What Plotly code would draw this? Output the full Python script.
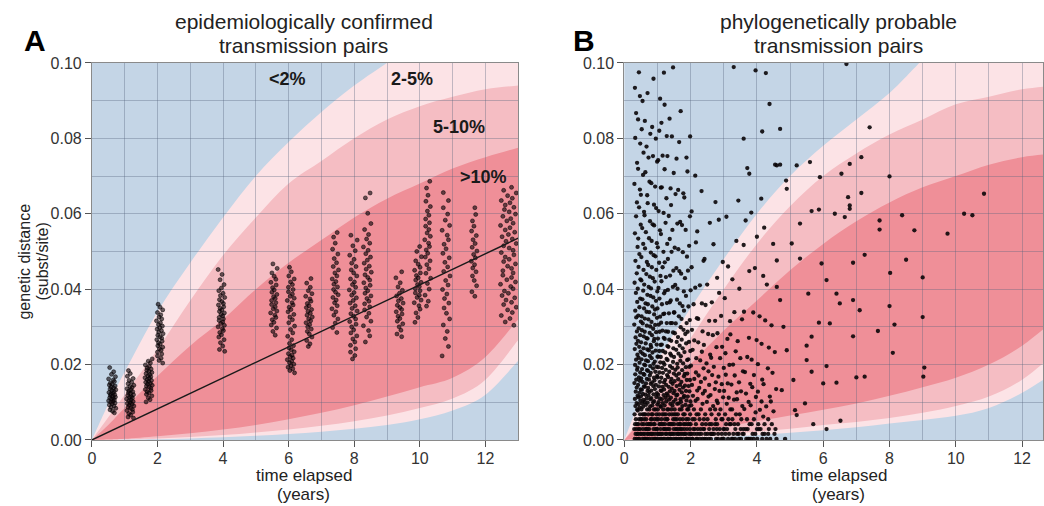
import plotly.graph_objects as go

FONT = "Liberation Sans, Arial, Helvetica, sans-serif"
W, H = 1044, 506

# ---------------------------------------------------------------------------
# Probability bands (genetic distance in subst/site versus years elapsed)
# U* = upper boundaries, L* = lower boundaries; 1 = 2 %, 2 = 5 %, 3 = 10 %
# ---------------------------------------------------------------------------
A_U1_T = [0, 0.5, 1, 2, 3, 4, 5, 6, 7, 8, 9]
A_U1 = [0, 0.0095, 0.018, 0.034, 0.047, 0.059, 0.070, 0.079, 0.087, 0.094, 0.100]
A_BAND_T = [0, 0.5, 1, 2, 3, 4, 5, 6, 7, 8, 9, 10, 11, 12, 13]
A_U2 = [0, 0.006, 0.012, 0.024, 0.037, 0.049, 0.059, 0.068, 0.074, 0.080, 0.085, 0.0885, 0.091, 0.093, 0.094]
A_U3 = [0, 0.004, 0.0085, 0.017, 0.025, 0.032, 0.040, 0.047, 0.053, 0.059, 0.064, 0.068, 0.072, 0.075, 0.0775]
A_L3 = [0, 0.0001, 0.0003, 0.001, 0.0018, 0.0028, 0.004, 0.0055, 0.0072, 0.0092, 0.0115, 0.014, 0.0165, 0.022, 0.032]
A_L2 = [0, 0.0001, 0.0002, 0.0004, 0.0008, 0.0013, 0.002, 0.0028, 0.0038, 0.005, 0.0065, 0.0085, 0.011, 0.016, 0.0265]
A_L1 = [0, 0.0, 0.0001, 0.0002, 0.0004, 0.0007, 0.0011, 0.0016, 0.0022, 0.003, 0.004, 0.0055, 0.0078, 0.012, 0.021]

B_U1_T = [0, 0.5, 1, 2, 3, 4, 5, 6, 7, 8, 8.9]
B_U1 = [0, 0.011, 0.021, 0.035, 0.048, 0.060, 0.070, 0.078, 0.085, 0.092, 0.100]
B_BAND_T = [0, 0.5, 1, 2, 3, 4, 5, 6, 7, 8, 9, 10, 11, 12, 13]
B_U2 = [0, 0.006, 0.013, 0.027, 0.040, 0.052, 0.062, 0.070, 0.076, 0.081, 0.085, 0.089, 0.091, 0.093, 0.094]
B_U3 = [0, 0.005, 0.010, 0.020, 0.029, 0.037, 0.045, 0.052, 0.058, 0.063, 0.067, 0.070, 0.073, 0.075, 0.076]
B_L3 = [0, 0.0004, 0.001, 0.0022, 0.0035, 0.005, 0.0065, 0.008, 0.0097, 0.0117, 0.014, 0.0165, 0.020, 0.025, 0.032]
B_L2 = [0, 0.0002, 0.0004, 0.0008, 0.0015, 0.0022, 0.003, 0.004, 0.0048, 0.0058, 0.0072, 0.009, 0.0115, 0.016, 0.023]
B_L1 = [0, 0.0001, 0.0002, 0.0004, 0.0008, 0.0013, 0.0019, 0.0026, 0.0034, 0.0044, 0.0053, 0.0064, 0.0085, 0.0125, 0.018]

# ---------------------------------------------------------------------------
# Panel A: epidemiologically confirmed pairs, grouped by sampling interval.
# distances are given in 1e-3 subst/site
# ---------------------------------------------------------------------------
A_CLUSTER_T = [0.62, 1.17, 1.73, 2.07, 3.95, 5.55, 6.07, 6.62, 7.42, 7.97,
               8.40, 9.38, 9.94, 10.24, 10.80, 11.65, 12.70]
A_CLUSTER_HALFWIDTH = [0.11, 0.11, 0.11, 0.10, 0.10, 0.10, 0.11, 0.10, 0.10, 0.12,
                       0.12, 0.11, 0.11, 0.09, 0.12, 0.09, 0.24]
A_CLUSTER_DIST = [
    [19.2, 18.1, 17.4, 16.8, 16.2, 15.9, 15.5, 15.1, 14.8, 14.6, 14.3, 14.0, 13.8, 13.5, 13.3, 13.1,
     12.8, 12.6, 12.4, 12.2, 12.0, 11.8, 11.6, 11.4, 11.2, 11.0, 10.8, 10.6, 10.4, 10.2, 10.0, 9.8,
     9.6, 9.3, 9.0, 8.7, 8.4, 8.0, 7.6, 7.2],
    [18.4, 17.6, 16.9, 16.3, 15.8, 15.3, 14.9, 14.5, 14.2, 13.9, 13.6, 13.3, 13.0, 12.8, 12.5, 12.3,
     12.0, 11.8, 11.5, 11.3, 11.1, 10.9, 10.6, 10.4, 10.2, 9.9, 9.7, 9.5, 9.2, 9.0, 8.7, 8.4, 8.1,
     7.8, 7.4, 7.0, 6.6, 6.1, 5.8],
    [21.5, 20.9, 20.4, 19.9, 19.5, 19.1, 18.8, 18.5, 18.2, 17.9, 17.6, 17.3, 17.0, 16.8, 16.5, 16.3,
     16.0, 15.8, 15.5, 15.3, 15.0, 14.8, 14.5, 14.3, 14.0, 13.7, 13.4, 13.1, 12.8, 12.5, 12.1, 11.7,
     11.2, 10.7, 10.1],
    [36.0, 35.2, 34.5, 33.8, 33.2, 32.6, 32.1, 31.6, 31.1, 30.6, 30.2, 29.8, 29.4, 29.0, 28.6, 28.2,
     27.8, 27.4, 27.0, 26.6, 26.2, 25.8, 25.4, 25.0, 24.6, 24.2, 23.8, 23.3, 22.8, 22.3, 21.7, 21.1, 20.4],
    [45.2, 43.9, 42.5, 41.2, 40.3, 39.6, 38.9, 38.3, 37.8, 37.2, 36.7, 36.2, 35.8, 35.3, 34.9, 34.5,
     34.1, 33.7, 33.3, 32.9, 32.5, 32.1, 31.7, 31.3, 30.9, 30.4, 30.0, 29.5, 29.0, 28.5, 27.9, 27.3,
     26.6, 25.8, 24.9, 24.0, 23.5],
    [46.7, 45.5, 44.3, 43.4, 42.6, 41.8, 41.1, 40.4, 39.8, 39.2, 38.6, 38.0, 37.5, 37.0, 36.4, 35.9,
     35.3, 34.8, 34.2, 33.7, 33.1, 32.5, 31.9, 31.2, 30.5, 29.7, 28.8, 27.8],
    [45.8, 44.6, 43.5, 42.7, 41.9, 41.2, 40.5, 39.9, 39.3, 38.7, 38.1, 37.6, 37.0, 36.4, 35.8, 35.2,
     34.6, 34.0, 33.3, 32.6, 31.9, 31.1, 30.2, 29.3, 28.4, 27.5, 26.6, 25.6, 25.0, 24.4, 23.9, 23.4,
     22.9, 22.5, 22.1, 21.7, 21.3, 20.9, 20.5, 20.1, 19.7, 19.3, 18.9, 18.4, 17.8],
    [42.8, 41.6, 40.5, 39.6, 38.8, 38.1, 37.4, 36.8, 36.2, 35.6, 35.1, 34.6, 34.1, 33.6, 33.1, 32.6,
     32.1, 31.6, 31.1, 30.6, 30.0, 29.4, 28.8, 28.1, 27.3, 26.4, 25.5, 24.8],
    [55.0, 53.8, 52.2, 50.6, 49.3, 48.1, 47.0, 46.0, 45.1, 44.3, 43.5, 42.7, 42.0, 41.3, 40.6, 39.9,
     39.2, 38.5, 37.8, 37.1, 36.4, 35.6, 34.8, 34.0, 33.1, 32.1, 31.0, 29.8, 28.5],
    [54.3, 53.0, 51.5, 50.2, 49.0, 47.9, 46.9, 46.0, 45.1, 44.3, 43.5, 42.7, 41.9, 41.2, 40.5, 39.8,
     39.1, 38.4, 37.7, 37.0, 36.3, 35.6, 34.9, 34.2, 33.5, 32.8, 32.1, 31.4, 30.7, 30.0, 29.2, 28.4,
     27.6, 26.8, 26.0, 25.1, 24.2, 23.3, 22.4, 21.5],
    [65.5, 64.2, 60.1, 57.4, 55.8, 54.5, 53.3, 52.2, 51.2, 50.3, 49.4, 48.5, 47.7, 46.9, 46.1, 45.3,
     44.5, 43.8, 43.1, 42.4, 41.7, 41.0, 40.3, 39.6, 38.9, 38.2, 37.5, 36.8, 36.1, 35.3, 34.5, 33.6,
     32.6, 31.5, 30.3, 29.0, 27.6, 26.0],
    [44.6, 43.0, 41.7, 40.6, 39.7, 38.9, 38.2, 37.5, 36.9, 36.3, 35.7, 35.1, 34.6, 34.0, 33.4, 32.8,
     32.2, 31.5, 30.8, 30.0, 29.1, 28.1, 27.4],
    [51.3, 50.0, 48.6, 47.5, 46.6, 45.8, 45.0, 44.3, 43.6, 43.0, 42.4, 41.8, 41.2, 40.7, 40.1, 39.6,
     39.0, 38.4, 37.8, 37.1, 36.4, 35.6, 34.7, 33.7, 32.5, 31.2],
    [68.6, 66.8, 64.9, 63.3, 61.9, 60.7, 59.6, 58.6, 57.6, 56.7, 55.8, 54.9, 54.0, 53.1, 52.2, 51.3,
     50.4, 49.5, 48.5, 47.5, 46.5, 45.4, 44.2, 42.9, 41.5, 40.0, 38.4, 36.8, 35.5],
    [65.6, 63.5, 61.6, 59.9, 58.3, 56.9, 55.6, 54.3, 53.1, 51.9, 50.7, 49.5, 48.3, 47.1, 45.9, 44.7,
     43.5, 42.3, 41.1, 39.9, 38.7, 37.5, 36.3, 35.0, 33.6, 32.1, 30.5, 28.8, 26.9, 24.8, 22.3],
    [61.6, 59.8, 58.1, 56.7, 55.4, 54.2, 53.1, 52.1, 51.1, 50.1, 49.2, 48.3, 47.4, 46.5, 45.6, 44.6,
     43.5, 42.3, 40.9, 39.3, 38.1],
    [67.0, 66.2, 65.5, 64.8, 64.1, 63.5, 62.9, 62.3, 61.7, 61.1, 60.5, 59.9, 59.3, 58.7, 58.1, 57.5,
     56.9, 56.3, 55.7, 55.1, 54.5, 53.9, 53.3, 52.7, 52.1, 51.5, 50.9, 50.3, 49.7, 49.1, 48.5, 47.9,
     47.3, 46.7, 46.1, 45.5, 44.9, 44.3, 43.7, 43.1, 42.5, 41.9, 41.3, 40.7, 40.1, 39.5, 38.9, 38.3,
     37.7, 37.1, 36.5, 35.9, 35.2, 34.5, 33.8, 33.0, 32.2, 31.3, 30.4],
]

# within-group horizontal spread (fraction of the group half-width)
JITTER = [-0.7, 0.4, -0.2, 0.9, -1.0, 0.3, 0.6, -0.5, 0.0, -0.8, 0.8, -0.3, 0.4, -0.6, 1.0, -0.1,
          0.5, -0.9, 0.2, -0.4, 0.7, -0.5, 0.1, 0.9, -0.7, 0.3, -0.2, 0.6, -1.0, 0.2, -0.4, 0.8,
          0.0, -0.8, 0.5, -0.3, 1.0, -0.6, 0.1, 0.6, -0.9, 0.7, -0.4, 0.1, -0.6, 0.9, -0.1, 0.4,
          -0.7, 0.6]

# regression line through the confirmed pairs
FIT_T = [0, 13]
FIT_DIST = [0, 0.0535]

# ---------------------------------------------------------------------------
# Panel B: phylogenetically probable pairs (1e-3 subst/site), binned by time
# ---------------------------------------------------------------------------
B_COL_T = [0.35, 0.45, 0.55, 0.65, 0.75, 0.85, 0.95, 1.05, 1.15, 1.25, 1.35, 1.45, 1.55, 1.65,
           1.75, 1.85, 1.95, 2.1, 2.3, 2.5, 2.7, 2.9, 3.1, 3.3, 3.5, 3.7, 3.9, 4.1, 4.3, 4.5]
B_COL_HALFWIDTH = [0.05] * 17 + [0.1] * 13
B_COL_DIST = [
    [0.3, 0.3, 1.6, 1.6, 2.9, 2.9, 4.2, 4.2, 5.5, 6.8, 8.1, 9.0, 9.8, 10.9, 11.7, 12.8, 13.9, 15.1,
     16.0, 17.4, 18.6, 19.9, 21.3, 22.6, 24.1, 25.5, 27.2, 28.8, 30.6, 32.5, 34.3, 36.6, 39.0, 41.7,
     44.2, 47.5, 51.2, 54.8, 59.3, 63.0, 67.9, 73.5, 80.1, 86.7, 93.4],
    [0.3, 0.3, 1.6, 1.6, 2.9, 2.9, 4.2, 5.5, 5.5, 6.8, 7.8, 8.6, 9.5, 10.4, 11.3, 12.5, 13.4, 14.6,
     15.7, 16.6, 17.9, 19.2, 20.5, 21.8, 23.4, 24.7, 26.3, 27.8, 29.6, 31.4, 33.0, 35.2, 37.5, 40.1,
     42.6, 45.9, 49.3, 53.4, 57.1, 61.7, 66.4, 71.9, 78.6, 85.0, 91.2, 97.5],
    [0.3, 0.3, 1.6, 1.6, 2.9, 4.2, 4.2, 5.5, 6.8, 6.8, 8.1, 8.8, 9.7, 10.6, 11.5, 12.2, 13.3, 14.2,
     15.4, 16.3, 17.5, 18.8, 20.0, 21.4, 22.9, 24.3, 25.9, 27.5, 29.1, 30.9, 32.8, 34.9, 37.3, 39.6,
     42.3, 45.1, 48.5, 52.0, 56.2, 60.5, 65.0, 70.3, 76.2, 82.4, 89.9],
    [0.3, 0.3, 1.6, 1.6, 2.9, 2.9, 4.2, 5.5, 5.5, 6.8, 8.1, 9.3, 10.1, 11.0, 12.0, 13.0, 14.1, 15.0,
     16.2, 17.3, 18.5, 19.8, 21.1, 22.5, 24.0, 25.6, 27.0, 28.7, 30.3, 32.2, 34.0, 36.2, 38.5, 41.2,
     44.0, 47.2, 50.8, 55.1, 59.6, 64.9, 71.0, 77.8, 84.6, 92.0],
    [0.3, 0.3, 1.6, 1.6, 2.9, 2.9, 4.2, 4.2, 5.5, 6.8, 8.1, 8.9, 9.9, 10.8, 11.8, 12.7, 13.8, 14.9,
     16.0, 17.1, 18.3, 19.6, 20.9, 22.3, 23.8, 25.2, 26.9, 28.4, 30.1, 32.0, 33.9, 36.0, 38.2, 40.6,
     43.3, 46.4, 49.7, 53.5, 58.0, 62.8, 68.5, 74.9, 81.2],
    [0.3, 0.3, 1.6, 1.6, 2.9, 4.2, 4.2, 5.5, 6.8, 6.8, 8.1, 9.2, 10.0, 11.1, 12.1, 13.1, 14.3, 15.3,
     16.5, 17.8, 19.0, 20.2, 21.7, 23.2, 24.6, 26.2, 27.8, 29.5, 31.3, 33.3, 35.4, 37.8, 40.2, 42.9,
     45.8, 49.0, 52.8, 57.2, 62.4, 68.1, 75.3, 83.0, 95.8],
    [0.3, 0.3, 1.6, 1.6, 2.9, 2.9, 4.2, 5.5, 5.5, 6.8, 8.1, 9.4, 10.3, 11.4, 12.4, 13.5, 14.6, 15.8,
     17.0, 18.1, 19.4, 20.8, 22.1, 23.7, 25.3, 26.8, 28.6, 30.5, 32.4, 34.6, 36.9, 39.4, 42.0, 45.1,
     48.7, 52.2, 56.9, 61.5, 67.2, 73.8, 79.9],
    [0.3, 0.3, 1.6, 1.6, 2.9, 2.9, 4.2, 4.2, 5.5, 6.8, 8.1, 9.0, 10.0, 11.0, 12.0, 13.1, 14.2, 15.4,
     16.6, 17.9, 19.3, 20.6, 22.1, 23.6, 25.2, 26.9, 28.7, 30.6, 32.7, 34.9, 37.5, 40.3, 43.5, 47.0,
     51.1, 55.6, 60.7, 66.9, 74.2, 82.0, 90.5],
    [0.3, 0.3, 1.6, 1.6, 2.9, 4.2, 4.2, 5.5, 6.8, 6.8, 8.1, 8.8, 9.8, 10.8, 11.9, 13.0, 14.1, 15.3,
     16.5, 17.8, 19.1, 20.5, 22.0, 23.6, 25.3, 27.1, 29.0, 31.1, 33.4, 36.0, 38.9, 42.1, 45.8, 49.9,
     54.6, 60.2, 67.0, 75.4, 84.1, 97.4],
    [0.3, 0.3, 1.6, 1.6, 2.9, 2.9, 4.2, 5.5, 5.5, 6.8, 8.1, 9.2, 10.2, 11.2, 12.3, 13.4, 14.6, 15.9,
     17.2, 18.6, 20.0, 21.5, 23.2, 24.9, 26.8, 28.8, 31.0, 33.5, 36.3, 39.5, 43.2, 47.1, 52.0, 57.6,
     64.1, 71.8, 80.6, 88.9],
    [0.3, 0.3, 1.6, 1.6, 2.9, 2.9, 4.2, 4.2, 5.5, 6.8, 8.1, 9.6, 10.7, 11.8, 12.9, 14.1, 15.4, 16.7,
     18.1, 19.6, 21.2, 22.9, 24.7, 26.6, 28.7, 31.0, 33.6, 36.5, 39.8, 43.6, 48.0, 53.3, 59.4, 66.7,
     75.3, 85.2],
    [0.3, 0.3, 1.6, 1.6, 2.9, 4.2, 4.2, 5.5, 6.8, 6.8, 8.1, 9.1, 10.1, 11.2, 12.4, 13.6, 14.9, 16.2,
     17.6, 19.1, 20.7, 22.4, 24.3, 26.3, 28.5, 31.0, 33.8, 37.0, 40.6, 44.9, 49.9, 55.7, 62.3, 70.8,
     80.5, 98.8],
    [0.3, 0.3, 1.6, 1.6, 2.9, 2.9, 4.2, 5.5, 5.5, 6.8, 8.1, 9.6, 10.7, 11.8, 13.0, 14.3, 15.6, 17.1,
     18.6, 20.2, 22.0, 23.9, 26.0, 28.3, 30.9, 33.8, 37.2, 41.1, 45.6, 51.0, 57.4, 65.2, 74.6],
    [0.3, 0.3, 1.6, 1.6, 2.9, 2.9, 4.2, 4.2, 5.5, 6.8, 8.1, 9.7, 10.8, 12.0, 13.3, 14.6, 16.1, 17.6,
     19.2, 21.0, 22.9, 25.0, 27.3, 29.9, 32.8, 36.2, 40.1, 44.8, 50.6, 57.8, 66.3, 79.0],
    [0.3, 0.3, 1.6, 1.6, 2.9, 4.2, 4.2, 5.5, 6.8, 8.1, 9.0, 10.1, 11.3, 12.6, 13.9, 15.4, 16.9, 18.5,
     20.3, 22.2, 24.3, 26.6, 29.2, 32.1, 35.5, 39.4, 44.1, 49.8, 57.0, 65.4, 87.2],
    [0.3, 0.3, 1.6, 1.6, 2.9, 2.9, 4.2, 5.5, 6.8, 8.1, 9.3, 10.5, 11.7, 13.0, 14.4, 15.9, 17.5, 19.3,
     21.2, 23.3, 25.6, 28.1, 31.0, 34.3, 38.2, 42.9, 48.6, 55.7, 64.3, 74.9],
    [0.3, 0.3, 1.6, 1.6, 2.9, 4.2, 4.2, 5.5, 6.8, 8.1, 9.0, 10.2, 11.5, 12.9, 14.3, 15.9, 17.6, 19.4,
     21.4, 23.6, 26.0, 28.7, 31.8, 35.4, 39.7, 44.9, 51.5, 59.3, 71.2, 80.5],
    [0.3, 0.3, 0.3, 1.6, 1.6, 1.6, 2.9, 2.9, 4.2, 4.2, 5.5, 5.5, 6.8, 8.1, 9.2, 10.4, 11.7, 13.1,
     14.6, 16.2, 17.9, 19.7, 21.7, 23.9, 26.4, 29.2, 32.3, 36.0, 40.4, 45.8, 52.4, 60.6, 70.1],
    [0.3, 0.3, 0.3, 1.6, 1.6, 2.9, 2.9, 2.9, 4.2, 5.5, 5.5, 6.8, 8.1, 9.6, 10.9, 12.3, 13.8, 15.4,
     17.1, 19.0, 21.1, 23.4, 25.9, 28.8, 32.1, 36.2, 41.0, 47.5, 55.3, 66.0],
    [0.3, 0.3, 0.3, 1.6, 1.6, 1.6, 2.9, 2.9, 4.2, 4.2, 5.5, 6.8, 8.1, 10.1, 11.5, 13.0, 14.6, 16.3,
     18.2, 20.3, 22.6, 25.2, 28.1, 31.6, 35.8, 41.2, 48.0, 57.6],
    [0.3, 0.3, 1.6, 1.6, 1.6, 2.9, 2.9, 4.2, 4.2, 5.5, 6.8, 8.1, 9.0, 10.4, 11.9, 13.5, 15.3, 17.2,
     19.4, 21.8, 24.6, 27.8, 31.6, 36.5, 43.0, 51.9, 63.1],
    [0.3, 0.3, 0.3, 1.6, 1.6, 2.9, 2.9, 4.2, 5.5, 5.5, 6.8, 8.1, 9.8, 11.3, 13.0, 14.8, 16.8, 19.1,
     21.7, 24.7, 28.3, 32.9, 39.0, 47.2, 58.4],
    [0.3, 0.3, 1.6, 1.6, 2.9, 2.9, 4.2, 4.2, 5.5, 6.8, 8.1, 9.6, 11.2, 13.0, 15.0, 17.3, 19.9, 23.0,
     26.8, 31.5, 37.6, 46.0, 59.2],
    [0.3, 0.3, 0.3, 1.6, 1.6, 2.9, 4.2, 4.2, 5.5, 6.8, 8.1, 10.7, 12.6, 14.7, 17.1, 20.0, 23.5, 28.0,
     33.9, 42.6, 52.8, 98.9],
    [0.3, 0.3, 1.6, 1.6, 2.9, 2.9, 4.2, 5.5, 6.8, 9.0, 10.8, 12.9, 15.3, 18.2, 21.7, 26.2, 32.0, 40.1,
     51.7, 63.5],
    [0.3, 0.3, 0.3, 1.6, 2.9, 2.9, 4.2, 5.5, 8.2, 10.1, 12.3, 14.9, 18.0, 22.0, 27.1, 34.0, 44.8, 58.2,
     72.1],
    [0.3, 0.3, 1.6, 1.6, 2.9, 4.2, 5.5, 7.3, 9.2, 11.4, 14.0, 17.2, 21.3, 26.5, 33.8, 45.6, 60.3, 98.0],
    [0.3, 0.3, 1.6, 2.9, 2.9, 4.2, 6.2, 8.0, 10.2, 12.8, 16.0, 20.1, 25.5, 32.8, 43.5, 53.9, 64.0, 81.8],
    [0.3, 1.6, 1.6, 2.9, 4.2, 5.5, 8.9, 11.5, 14.8, 19.0, 24.5, 31.7, 41.2, 56.3, 89.1, 97.3],
    [0.3, 0.3, 1.6, 2.9, 4.2, 7.6, 10.2, 13.5, 17.8, 23.3, 30.4, 40.6, 52.0, 73.0],
]
# individual pairs with longer time spans
B_SPARSE_T = [4.6, 5.2, 5.6, 5.9, 6.55, 6.8, 7.15, 7.4, 6.75, 6.8, 6.8, 7.15, 8.0, 10.85, 10.25,
              10.5, 9.75, 8.75, 8.38, 7.7, 7.7, 7.25, 8.5, 6.9, 5.95, 6.35, 6.65, 5.65, 5.87, 5.3,
              6.1, 8.02, 9.0, 5.3, 5.55, 6.4, 6.5, 6.2, 6.9, 7.1, 8.0, 8.15, 7.65, 9.0, 6.9, 8.1,
              9.05, 9.02, 7.25, 7.0, 6.1, 6.4, 6.0, 5.5, 5.87, 5.65, 5.5, 5.15, 5.2, 6.52, 5.45,
              5.65, 5.1, 4.75, 4.9, 4.8, 5.05, 4.7, 4.6, 4.85, 5.7, 6.1, 4.7, 4.88, 4.9, 4.7, 3.6,
              3.77, 6.7]
B_SPARSE_DIST = [72.8, 72.8, 73.7, 69.7, 70.6, 73.2, 75.0, 82.9, 64.4, 62.2, 61.3, 65.5, 69.9,
                 65.3, 60.0, 59.6, 54.7, 55.6, 59.6, 58.2, 55.8, 49.1, 47.8, 47.0, 46.8, 60.0,
                 59.1, 60.7, 61.1, 57.4, 42.4, 44.3, 43.1, 48.1, 38.8, 38.8, 36.2, 30.9, 37.1,
                 34.4, 35.5, 30.6, 28.9, 32.6, 27.5, 23.1, 19.2, 16.8, 16.8, 16.6, 19.6, 15.2,
                 15.0, 25.0, 31.1, 27.4, 21.2, 7.9, 6.6, 5.1, 9.7, 18.1, 15.9, 13.2, 23.8, 30.0,
                 52.1, 37.1, 47.6, 0.3, 4.2, 2.9, 82.5, 68.8, 66.6, 73.0, 79.9, 70.6, 99.7]

# band labels in panel A
BAND_LABELS = ["&lt;2%", "2-5%", "5-10%", "&gt;10%"]
BAND_LABEL_T = [5.95, 9.76, 11.18, 11.94]
BAND_LABEL_DIST = [0.0958, 0.0958, 0.0830, 0.0697]

# colours
C_BLUE = "#C4D5E6"
C_LIGHT = "#FCE3E6"
C_MED = "#F5BDC3"
C_DARK = "#EF8F98"
GRID = "rgba(85,100,125,0.36)"


def grouped_points(centres, halfwidths, groups, scale=1e-3):
    xs, ys = [], []
    for g, (c, hw, vals) in enumerate(zip(centres, halfwidths, groups)):
        for i, v in enumerate(vals):
            j = JITTER[(i + 7 * g) % len(JITTER)]
            xs.append(c + j * hw)
            ys.append(v * scale)
    return xs, ys


def bezier(xs, ys):
    pts = list(zip(xs, ys))
    n = len(pts)
    out = []
    for i in range(n - 1):
        p0 = pts[i - 1] if i > 0 else pts[i]
        p1, p2 = pts[i], pts[i + 1]
        p3 = pts[i + 2] if i + 2 < n else pts[i + 1]
        c1 = (p1[0] + (p2[0] - p0[0]) / 6, p1[1] + (p2[1] - p0[1]) / 6)
        c2 = (p2[0] - (p3[0] - p1[0]) / 6, p2[1] - (p3[1] - p1[1]) / 6)
        out.append("C{:.5f},{:.6f} {:.5f},{:.6f} {:.5f},{:.6f}".format(
            c1[0], c1[1], c2[0], c2[1], p2[0], p2[1]))
    return " ".join(out)


def band_path(ux, uy, lx, ly, x_end):
    s = "M{:.5f},{:.6f} ".format(ux[0], uy[0]) + bezier(ux, uy)
    s += " L{:.5f},{:.6f} L{:.5f},{:.6f} L{:.5f},{:.6f} ".format(
        x_end, uy[-1], x_end, ly[-1], lx[-1], ly[-1])
    s += bezier(lx[::-1], ly[::-1]) + " Z"
    return s


def band_shapes(xr, yr, u1t, u1, t, u2, u3, l3, l2, l1, x_end):
    specs = [(u1t, u1, l1, C_LIGHT), (t, u2, l2, C_MED), (t, u3, l3, C_DARK)]
    shapes = []
    for ut, uy, ly, col in specs:
        shapes.append(dict(type="path", xref=xr, yref=yr, layer="below",
                           path=band_path(ut, uy, t, ly, x_end),
                           fillcolor=col, line=dict(width=0)))
    return shapes


fig = go.Figure()

# Panel A points and fitted line
ax_x, ax_y = grouped_points(A_CLUSTER_T, A_CLUSTER_HALFWIDTH, A_CLUSTER_DIST)
fig.add_trace(go.Scatter(
    x=ax_x, y=ax_y, mode="markers", xaxis="x", yaxis="y", hoverinfo="skip",
    marker=dict(size=4, color="rgba(15,5,10,0.62)",
                line=dict(color="rgba(0,0,0,0.85)", width=0.6))))
fig.add_trace(go.Scatter(
    x=FIT_T, y=FIT_DIST, mode="lines", xaxis="x", yaxis="y", hoverinfo="skip",
    line=dict(color="#1a1a1a", width=1.4)))

# Panel B points
bx, by = grouped_points(B_COL_T, B_COL_HALFWIDTH, B_COL_DIST)
bx += B_SPARSE_T
by += [v * 1e-3 for v in B_SPARSE_DIST]
fig.add_trace(go.Scatter(
    x=bx, y=by, mode="markers", xaxis="x2", yaxis="y2", hoverinfo="skip",
    marker=dict(size=4.3, color="rgba(10,5,8,0.9)", line=dict(width=0))))

shapes = band_shapes("x", "y", A_U1_T, A_U1, A_BAND_T, A_U2, A_U3, A_L3, A_L2, A_L1, 13)
shapes += band_shapes("x2", "y2", B_U1_T, B_U1, B_BAND_T, B_U2, B_U3, B_L3, B_L2, B_L1, 13)


def px(x):
    return x / W


def py(y):
    return 1 - y / H


axis_common = dict(
    showgrid=True, gridcolor=GRID, gridwidth=1, zeroline=False,
    ticks="outside", ticklen=6, tickwidth=1, tickcolor="#555",
    showline=True, linecolor="#8a8a8a", linewidth=1, mirror=True,
    tickfont=dict(family=FONT, size=16, color="#333"), fixedrange=True,
)
xaxis_common = dict(axis_common, tick0=0, dtick=2, ticklen=6, ticklabelstandoff=-2,
                    minor=dict(dtick=1, showgrid=True, gridcolor=GRID, gridwidth=1))
yaxis_common = dict(axis_common, range=[0, 0.1], tick0=0, dtick=0.02, tickformat=".2f",
                    minor=dict(dtick=0.01, showgrid=True, gridcolor=GRID, gridwidth=1))

ydom = [py(447), py(56.8)]

annotations = []
for lab, t, d in zip(BAND_LABELS, BAND_LABEL_T, BAND_LABEL_DIST):
    annotations.append(dict(text="<b>" + lab + "</b>", x=t, y=d, xref="x", yref="y",
                            showarrow=False, font=dict(family=FONT, size=18, color="#1a1a1a")))

for letter, cx in (("A", 31), ("B", 583)):
    annotations.append(dict(text="<b>" + letter + "</b>", x=px(cx), y=py(33.5), xref="paper",
                            yref="paper", showarrow=False, xanchor="center", yanchor="middle",
                            font=dict(family=FONT, size=30, color="#000")))


def centred_text(txt, cx, cy, size, angle=0):
    return dict(text=txt, x=px(cx), y=py(cy), xref="paper", yref="paper", showarrow=False,
                textangle=angle, xanchor="center", yanchor="middle",
                font=dict(family=FONT, size=size, color="#222"))


for (l1, l2), cx in ((("epidemiologically confirmed", "transmission pairs"), 301),
                     (("phylogenetically probable", "transmission pairs"), 839)):
    annotations.append(centred_text(l1, cx, 14, 21))
    annotations.append(centred_text(l2, cx, 38.5, 21))
    annotations.append(centred_text("time elapsed", cx, 483.5, 17))
    annotations.append(centred_text("(years)", cx, 503, 17))

annotations.append(centred_text("genetic distance", 20.5, 262, 16, -90))
annotations.append(centred_text("(subst/site)", 38.5, 262, 16, -90))

fig.update_layout(
    width=W, height=H, margin=dict(l=0, r=0, t=0, b=0),
    paper_bgcolor="white", plot_bgcolor=C_BLUE, showlegend=False,
    xaxis=dict(xaxis_common, domain=[px(88.3), px(516.7)], range=[0, 13], anchor="y"),
    yaxis=dict(yaxis_common, domain=ydom, anchor="x"),
    xaxis2=dict(xaxis_common, domain=[px(623.3), 1.0], range=[0, 12.63], anchor="y2"),
    yaxis2=dict(yaxis_common, domain=ydom, anchor="x2"),
    shapes=shapes, annotations=annotations,
)

fig.write_html("out.html")
